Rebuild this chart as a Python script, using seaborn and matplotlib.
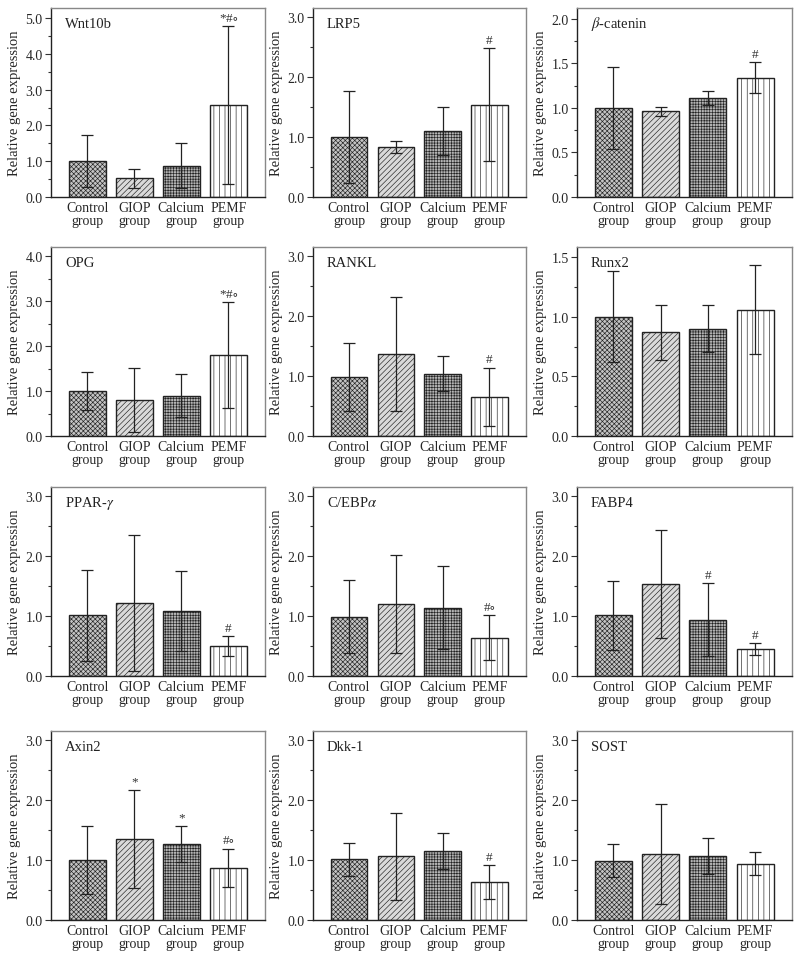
import matplotlib
matplotlib.use("Agg")
import matplotlib.pyplot as plt
import seaborn as sns
import pandas as pd
from matplotlib.ticker import MultipleLocator, AutoMinorLocator, FormatStrFormatter

# ---------------- data ----------------
groups = ["Control\ngroup", "GIOP\ngroup", "Calcium\ngroup", "PEMF\ngroup"]

genes = ["Wnt10b", "LRP5", r"$\beta$-catenin",
         "OPG", "RANKL", "Runx2",
         r"PPAR-$\gamma$", r"C/EBP$\alpha$", "FABP4",
         "Axin2", "Dkk-1", "SOST"]

wnt10b_mean = [1.00, 0.52, 0.88, 2.57]
wnt10b_sd = [0.73, 0.27, 0.62, 2.20]
lrp5_mean = [1.00, 0.83, 1.10, 1.54]
lrp5_sd = [0.76, 0.10, 0.40, 0.94]
bcat_mean = [1.00, 0.96, 1.11, 1.34]
bcat_sd = [0.46, 0.05, 0.08, 0.17]
opg_mean = [1.00, 0.80, 0.90, 1.81]
opg_sd = [0.42, 0.71, 0.48, 1.18]
rankl_mean = [0.98, 1.36, 1.04, 0.65]
rankl_sd = [0.57, 0.95, 0.29, 0.49]
runx2_mean = [1.00, 0.87, 0.90, 1.06]
runx2_sd = [0.38, 0.23, 0.20, 0.37]
ppar_mean = [1.01, 1.22, 1.08, 0.50]
ppar_sd = [0.76, 1.13, 0.67, 0.16]
cebpa_mean = [0.99, 1.20, 1.14, 0.64]
cebpa_sd = [0.61, 0.82, 0.69, 0.38]
fabp4_mean = [1.01, 1.54, 0.94, 0.45]
fabp4_sd = [0.57, 0.90, 0.61, 0.10]
axin2_mean = [1.00, 1.35, 1.27, 0.87]
axin2_sd = [0.56, 0.82, 0.30, 0.32]
dkk1_mean = [1.01, 1.06, 1.15, 0.63]
dkk1_sd = [0.28, 0.72, 0.30, 0.28]
sost_mean = [0.99, 1.10, 1.06, 0.94]
sost_sd = [0.28, 0.83, 0.30, 0.19]

C = r"$\circ$"
wnt10b_marks = ["", "", "", "*#" + C]
lrp5_marks = ["", "", "", "#"]
bcat_marks = ["", "", "", "#"]
opg_marks = ["", "", "", "*#" + C]
rankl_marks = ["", "", "", "#"]
runx2_marks = ["", "", "", ""]
ppar_marks = ["", "", "", "#"]
cebpa_marks = ["", "", "", "#" + C]
fabp4_marks = ["", "", "#", "#"]
axin2_marks = ["", "*", "*", "#" + C]
dkk1_marks = ["", "", "", "#"]
sost_marks = ["", "", "", ""]

y_max = [5.28, 3.15, 2.12, 4.21, 3.15, 1.584, 3.15, 3.15, 3.15, 3.15, 3.15, 3.15]
y_step = [1.0, 1.0, 0.5, 1.0, 1.0, 0.5, 1.0, 1.0, 1.0, 1.0, 1.0, 1.0]

means = [wnt10b_mean, lrp5_mean, bcat_mean, opg_mean, rankl_mean, runx2_mean,
         ppar_mean, cebpa_mean, fabp4_mean, axin2_mean, dkk1_mean, sost_mean]
sds = [wnt10b_sd, lrp5_sd, bcat_sd, opg_sd, rankl_sd, runx2_sd,
       ppar_sd, cebpa_sd, fabp4_sd, axin2_sd, dkk1_sd, sost_sd]
marks = [wnt10b_marks, lrp5_marks, bcat_marks, opg_marks, rankl_marks, runx2_marks,
         ppar_marks, cebpa_marks, fabp4_marks, axin2_marks, dkk1_marks, sost_marks]

# ---------------- style ----------------
sns.set_style("ticks")
plt.rcParams["font.family"] = ["Liberation Serif", "DejaVu Serif"]
plt.rcParams["mathtext.fontset"] = "stix"
plt.rcParams["hatch.linewidth"] = 0.45

hatches = ["xxxxxxx", "//////", "++++++", "|||"]
faces = ["#c4c4c4", "#dadada", "#b4b4b4", "white"]

fig = plt.figure(figsize=(7.96, 9.62), dpi=100)
W, H = 796.0, 962.0
lefts = [51, 313, 577]
widths = [214, 213, 215]
bottoms = [198, 437, 677, 921]
ax_h = 189

for i in range(12):
    r, c = divmod(i, 3)
    ax = fig.add_axes([lefts[c] / W, 1 - bottoms[r] / H, widths[c] / W, ax_h / H])
    df = pd.DataFrame({"group": groups, "value": means[i]})
    sns.barplot(data=df, x="group", y="value", ax=ax, width=0.78, errorbar=None,
                color="white", edgecolor="#222222", linewidth=1.0, saturation=1)
    for patch, h, fc in zip(ax.patches, hatches, faces):
        patch.set_hatch(h)
        patch.set_facecolor(fc)
    ax.errorbar(range(4), means[i], yerr=sds[i], fmt="none", ecolor="#222222",
                elinewidth=0.9, capsize=4.5, capthick=0.9, zorder=5)
    for k in range(4):
        if marks[i][k]:
            ax.text(k, means[i][k] + sds[i][k] + 0.012 * y_max[i], marks[i][k],
                    ha="center", va="bottom", fontsize=9.5, color="#333333")
    ax.set_xlim(-0.77, 3.78)
    ax.set_ylim(0, y_max[i])
    ax.yaxis.set_major_locator(MultipleLocator(y_step[i]))
    ax.yaxis.set_minor_locator(AutoMinorLocator(2))
    ax.yaxis.set_major_formatter(FormatStrFormatter("%.1f"))
    ax.tick_params(axis="y", which="major", direction="out", length=4, width=0.8,
                   labelsize=10, pad=2, color="#333333")
    ax.tick_params(axis="y", which="minor", direction="out", length=2, width=0.8,
                   color="#333333")
    ax.tick_params(axis="x", length=0, labelsize=10, pad=3)
    for lab in ax.get_xticklabels():
        lab.set_linespacing(1.0)
    ax.set_xlabel("")
    ax.set_ylabel("Relative gene expression", fontsize=10.5, labelpad=3)
    for s in ["top", "right"]:
        ax.spines[s].set_color("#888888")
        ax.spines[s].set_linewidth(1.0)
    for s in ["left", "bottom"]:
        ax.spines[s].set_color("#222222")
        ax.spines[s].set_linewidth(1.0)
    ax.text(0.065, 0.92, genes[i], transform=ax.transAxes, fontsize=10.5,
            ha="left", va="center", color="#222222")

fig.savefig("out.png", dpi=100)
